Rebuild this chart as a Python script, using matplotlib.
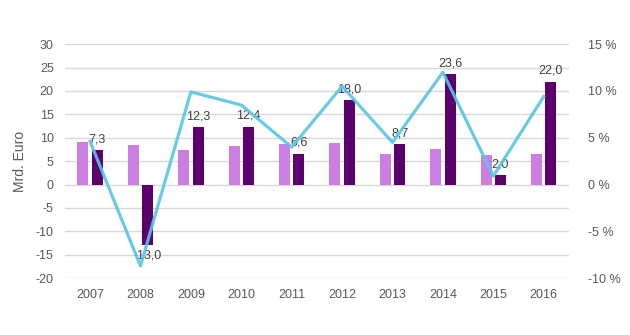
import numpy as np
import matplotlib.pyplot as plt

years = ['2007', '2008', '2009', '2010', '2011', '2012', '2013', '2014', '2015', '2016']
light_vals = [9.1, 8.4, 7.4, 8.2, 8.7, 8.8, 6.6, 7.6, 6.3, 6.5]
dark_vals = [7.3, -13.0, 12.3, 12.4, 6.6, 18.0, 8.7, 23.6, 2.0, 22.0]
pct_vals = [4.6, -8.7, 9.9, 8.5, 4.0, 10.5, 4.5, 12.0, 0.9, 9.4]

left_ticks = [-20, -15, -10, -5, 0, 5, 10, 15, 20, 25, 30]
right_ticks = [-10, -5, 0, 5, 10, 15]

plt.rcParams['font.family'] = ['Liberation Sans', 'DejaVu Sans']
txt = '#595959'

fig = plt.figure(figsize=(6.3, 3.35), dpi=100)
ax = fig.add_axes([0.103, 0.170, 0.800, 0.698])
ax2 = ax.twinx()

x = np.arange(len(years))
w = 0.22
off = 0.143
ax.bar(x - off, light_vals, w, color='#CC7FE0', zorder=2)
ax.bar(x + off, dark_vals, w, color='#5C006E', zorder=2)

for xi, v in zip(x, dark_vals):
    lab = f'{v:.1f}'.replace('.', ',')
    if v >= 0:
        ax.text(xi + off, v + 1.0, lab, ha='center', va='bottom', fontsize=9, color='#404040', zorder=4)
    else:
        ax.text(xi + off, v - 1.0, lab, ha='center', va='top', fontsize=9, color='#404040', zorder=4)

ax.set_xlim(-0.5, len(years) - 0.5)
ax.set_ylim(-20, 30)
ax.set_yticks(left_ticks)
ax.set_yticklabels([str(t) for t in left_ticks])
ax.set_xticks(x)
ax.set_xticklabels(years)
ax.grid(axis='y', color='#D9D9D9', linewidth=1, zorder=0)
ax.set_axisbelow(True)
ax.set_ylabel('Mrd. Euro', fontsize=10, color=txt, labelpad=6)
ax.tick_params(axis='both', length=0, labelsize=9, colors=txt, pad=8)

ax2.plot(x, pct_vals, color='#5BC4E6', linewidth=2.3, alpha=0.9, zorder=3)
ax2.set_ylim(-10, 15)
ax2.set_yticks(right_ticks)
ax2.set_yticklabels([f'{t} %' for t in right_ticks])
ax2.tick_params(axis='y', length=0, labelsize=9, colors=txt, pad=14)

for a in (ax, ax2):
    for s in a.spines.values():
        s.set_visible(False)

fig.savefig('out.png', dpi=100)
